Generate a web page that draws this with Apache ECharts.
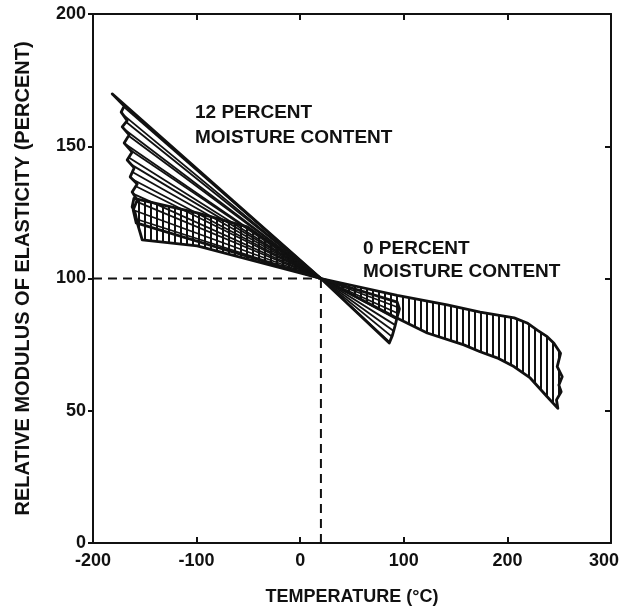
<!DOCTYPE html>
<html>
<head>
<meta charset="utf-8">
<script src="https://cdn.jsdelivr.net/npm/echarts@6/dist/echarts.min.js"></script>
<style>
  html, body { margin: 0; padding: 0; background: #fff; }
  #chart { width: 624px; height: 610px; }
</style>
</head>
<body>
<div id="chart"></div>
<script>
// tick labels
const xTicks = [-200, -100, 0, 100, 200, 300];
const yTicks = [0, 50, 100, 150, 200];

// both bands meet at room temperature
const apex = [20, 100];

// 12 percent moisture, cold side: wavy edge from the top tip down to the lower edge
const wet12ColdEdge = [
  [-181.5, 169.8], [-169.9, 165.2], [-172.8, 162.9], [-167, 159.7], [-171.8, 157.3],
  [-165.1, 154.3], [-169.9, 151.2], [-162.2, 147.8], [-167, 144.8], [-160.2, 141.8],
  [-164.1, 138.4], [-157.3, 135.7], [-162.2, 132.7], [-157.3, 129.7], [-161.2, 125.9],
  [-158.3, 121]
];
// 12 percent moisture, hot side: right edge of the small wedge
const wet12HotEdge = [[93.6, 91.1], [95.8, 88.5], [94, 86], [91.5, 82], [89, 78.5], [86, 75.6]];

// 0 percent moisture, cold side
const dryColdTop = [[-51, 119.5], [-99.4, 124.8]];
const dryColdEdge = [[-160.5, 130.3], [-162.2, 127.1], [-159.3, 124.8], [-157.3, 121], [-154.4, 117.2], [-152.5, 114.6]];
const dryColdBottom = [[-99.4, 112.3]];

// 0 percent moisture, hot side
const dryHotTop = [[93.6, 93.6], [141.9, 90], [173.7, 87.3], [206.6, 85.1], [219, 83.2], [228.8, 80.5], [238.4, 78], [244.9, 75.5]];
const dryHotEdge = [[251.3, 71.7], [248.1, 66.7], [252.9, 62.9], [249.7, 59.7], [251.9, 57.2], [247.4, 54.1], [248.7, 50.9]];
const dryHotBottom = [[238.4, 55.3], [222, 62.4], [206.3, 66.7], [190, 70], [173.7, 72.3], [158, 74.9], [122.6, 79.4], [90.4, 85.6]];

// dashed guides to the common point
const guideH = [[-200, 100], [20, 100]];
const guideV = [[20, 0], [20, 100]];

const wet12Cold = [apex].concat(wet12ColdEdge);
const wet12Hot = [apex].concat(wet12HotEdge);
const dryCold = [apex].concat(dryColdTop, dryColdEdge, dryColdBottom);
const dryHot = [apex].concat(dryHotTop, dryHotEdge, dryHotBottom);

const INK = '#111';
const FONT = '"Liberation Sans", Arial, sans-serif';

function vPattern() {
  const c = document.createElement('canvas');
  c.width = 6; c.height = 4;
  const ctx = c.getContext('2d');
  ctx.fillStyle = INK;
  ctx.fillRect(0, 0, 2, 4);
  return { image: c, repeat: 'repeat' };
}

// points spaced evenly along a polyline (pixels)
function sampleAlong(pts, step) {
  const out = [pts[0]];
  let acc = 0;
  for (let i = 1; i < pts.length; i++) {
    const a = pts[i - 1], b = pts[i];
    const len = Math.hypot(b[0] - a[0], b[1] - a[1]);
    let d = step - acc;
    while (d <= len) {
      out.push([a[0] + (b[0] - a[0]) * d / len, a[1] + (b[1] - a[1]) * d / len]);
      d += step;
    }
    acc = len - (d - step);
  }
  return out;
}

// hatched band: vertical pattern fill
function patternSeries(region, z) {
  return {
    type: 'custom', z: z, silent: true,
    data: region,
    renderItem: function (params, api) {
      if (params.dataIndex !== 0) return;
      const pts = region.map(p => api.coord(p));
      return {
        type: 'polygon',
        shape: { points: pts },
        style: { fill: vPattern(), stroke: INK, lineWidth: 2.8, lineJoin: 'round' }
      };
    }
  };
}

// hatched band: lines fanning into the common point
function fanSeries(region, edge, step, z) {
  return {
    type: 'custom', z: z, silent: true,
    data: region,
    renderItem: function (params, api) {
      if (params.dataIndex !== 0) return;
      const pts = region.map(p => api.coord(p));
      const a = api.coord(apex);
      const samples = sampleAlong(edge.map(p => api.coord(p)), step);
      const children = samples.slice(1).map(s => ({
        type: 'line',
        shape: { x1: s[0], y1: s[1], x2: a[0], y2: a[1] },
        style: { stroke: INK, lineWidth: 1.8 }
      }));
      children.push({
        type: 'polygon',
        shape: { points: pts },
        style: { fill: 'none', stroke: INK, lineWidth: 2.8, lineJoin: 'round' }
      });
      return { type: 'group', children: children };
    }
  };
}

function guideSeries(data) {
  return {
    type: 'line', data: data, symbol: 'none', silent: true, z: 1,
    lineStyle: { color: INK, width: 2, type: [9, 6] }
  };
}

const tickFont = { fontSize: 18, fontWeight: 'bold', color: INK, fontFamily: FONT };
const lastX = xTicks[xTicks.length - 1];

const chart = echarts.init(document.getElementById('chart'));
chart.setOption({
  animation: false,
  backgroundColor: '#fff',
  grid: { left: 93, right: 13, top: 14, bottom: 67, outerBoundsMode: 'none' },
  xAxis: [{
    type: 'value', min: xTicks[0], max: lastX, interval: 100,
    name: 'TEMPERATURE (°C)', nameLocation: 'middle', nameGap: 45,
    nameTextStyle: Object.assign({}, tickFont, { fontSize: 18 }),
    axisLine: { show: true, onZero: false, lineStyle: { color: INK, width: 2 } },
    axisTick: { show: true, inside: true, length: 6, lineStyle: { color: INK, width: 2 } },
    axisLabel: Object.assign({
      margin: 9,
      formatter: v => (v === lastX ? '{last|' + v + '}' : String(v)),
      rich: { last: Object.assign({ padding: [0, 14, 0, 0] }, tickFont) }
    }, tickFont),
    splitLine: { show: false }
  }, {
    type: 'value', position: 'top', min: xTicks[0], max: lastX, interval: 100,
    axisLine: { show: true, onZero: false, lineStyle: { color: INK, width: 2 } },
    axisTick: { show: true, inside: true, length: 6, lineStyle: { color: INK, width: 2 } },
    axisLabel: { show: false }, splitLine: { show: false }
  }],
  yAxis: [{
    type: 'value', min: yTicks[0], max: yTicks[yTicks.length - 1], interval: 50,
    name: 'RELATIVE MODULUS OF ELASTICITY (PERCENT)', nameLocation: 'middle', nameRotate: 90, nameGap: 60,
    nameTextStyle: Object.assign({}, tickFont, { fontSize: 20 }),
    axisLine: { show: true, onZero: false, lineStyle: { color: INK, width: 2 } },
    axisTick: { show: true, length: 5, lineStyle: { color: INK, width: 2 } },
    axisLabel: Object.assign({ margin: 7 }, tickFont),
    splitLine: { show: false }
  }, {
    type: 'value', position: 'right', min: yTicks[0], max: yTicks[yTicks.length - 1], interval: 50,
    axisLine: { show: true, onZero: false, lineStyle: { color: INK, width: 2 } },
    axisTick: { show: true, inside: true, length: 6, lineStyle: { color: INK, width: 2 } },
    axisLabel: { show: false }, splitLine: { show: false }
  }],
  graphic: [
    {
      type: 'text', left: 195, top: 101, z: 10,
      style: { text: '12 PERCENT\nMOISTURE CONTENT', fill: INK, lineHeight: 24.5,
        font: 'bold 19px ' + FONT }
    },
    {
      type: 'text', left: 363, top: 237, z: 10,
      style: { text: '0 PERCENT\nMOISTURE CONTENT', fill: INK, lineHeight: 23,
        font: 'bold 19px ' + FONT }
    }
  ],
  series: [
    guideSeries(guideH),
    guideSeries(guideV),
    patternSeries(dryCold, 2),
    patternSeries(dryHot, 2),
    fanSeries(wet12Cold, wet12ColdEdge, 9, 3),
    fanSeries(wet12Hot, wet12HotEdge, 6, 3)
  ]
});
</script>
</body>
</html>
